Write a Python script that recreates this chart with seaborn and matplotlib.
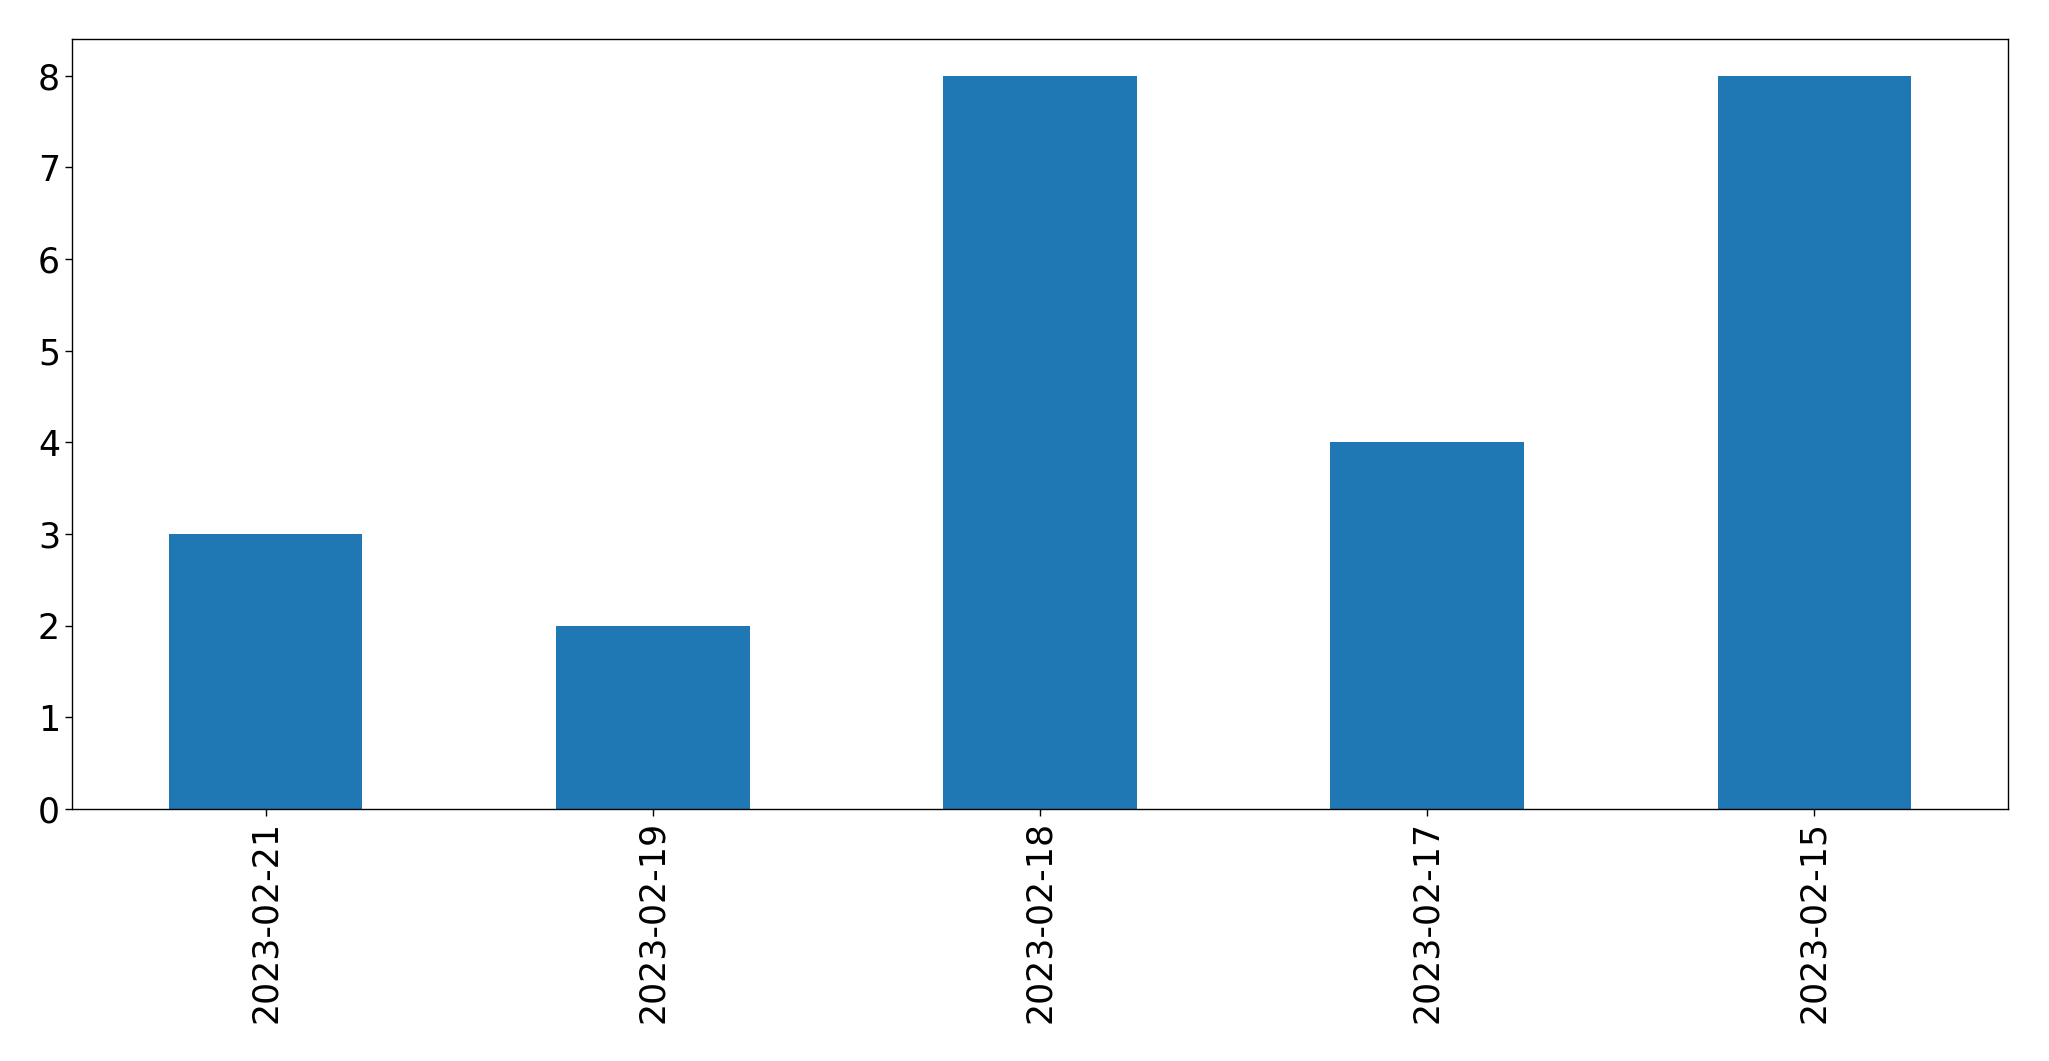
import matplotlib
matplotlib.use("Agg")
import matplotlib.pyplot as plt
import seaborn as sns
import pandas as pd

dates = ["2023-02-21", "2023-02-19", "2023-02-18", "2023-02-17", "2023-02-15"]
counts = [3, 2, 8, 4, 8]

sns.set_style("ticks")
plt.rcParams['font.family'] = ['DejaVu Sans']

df = pd.DataFrame({"date": dates, "count": counts})

fig = plt.figure(figsize=(20.49, 10.61), dpi=100)
ax = fig.add_axes([0.0351, 0.2375, 0.9449, 0.7257])
sns.barplot(data=df, x="date", y="count", color="#1f77b4", saturation=1,
            width=0.5, ax=ax, order=dates, linewidth=0, edgecolor="none")
ax.set_xlim(-0.5, len(dates) - 0.5)
ax.set_ylim(0, 8.4)
ax.set_xlabel("")
ax.set_ylabel("")
ax.tick_params(axis="both", labelsize=25, length=5, width=1, colors="black")
plt.setp(ax.get_xticklabels(), rotation=90)
for s in ax.spines.values():
    s.set_visible(True)
    s.set_color("black")
    s.set_linewidth(1)
fig.savefig("out.png", dpi=100)
